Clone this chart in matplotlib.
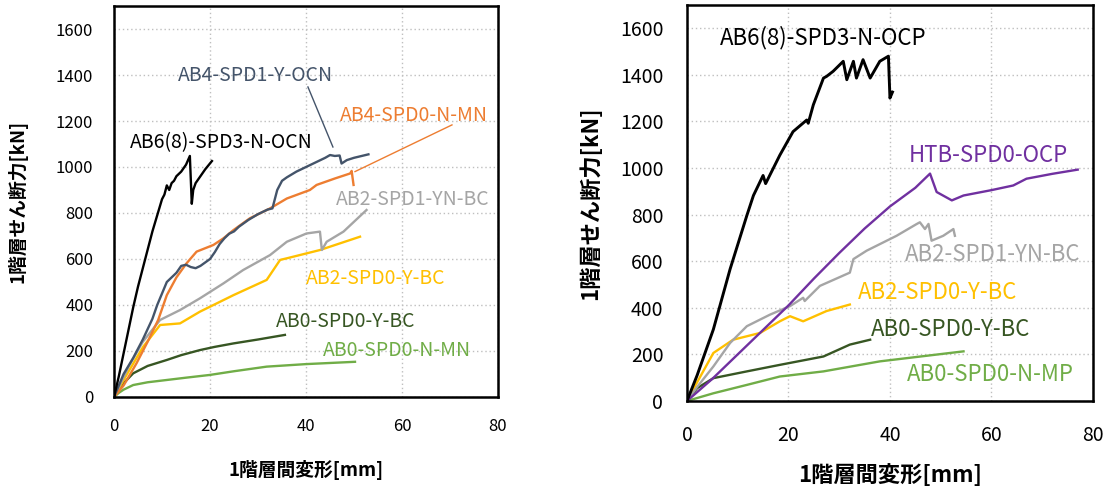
import matplotlib
matplotlib.use("Agg")
import matplotlib.pyplot as plt

plt.rcParams["font.family"] = ["Noto Sans CJK JP", "DejaVu Sans"]

# ---- left panel data (drift mm, shear kN) ----
l_ab6_x = [0, 1, 2, 3, 4, 5, 6, 7, 8, 9, 10, 10.5, 11, 11.5, 12, 12.5, 13, 14, 15, 15.8, 16.2, 16.5, 17, 18, 19, 20.4]
l_ab6_y = [0, 90, 190, 290, 390, 480, 560, 640, 720, 790, 860, 880, 920, 900, 930, 940, 960, 980, 1010, 1048, 840, 900, 930, 960, 990, 1026]

l_ab4y_x = [0, 2, 4, 6, 8, 9, 10, 11, 12, 13, 14, 15, 16, 17, 18, 19, 20, 21, 22, 23, 24, 25, 26, 28, 30, 32, 33, 34, 35, 36, 38, 40, 42, 44, 45, 46, 47, 47.4, 48.5, 50, 53]
l_ab4y_y = [0, 100, 170, 250, 340, 400, 450, 500, 520, 540, 570, 575, 565, 560, 570, 585, 600, 630, 665, 690, 710, 720, 740, 770, 795, 815, 820, 900, 940, 955, 980, 1000, 1020, 1040, 1052, 1048, 1050, 1015, 1030, 1040, 1055]

l_ab4n_x = [0, 2, 4.7, 7, 9.2, 11, 13, 15.1, 17.2, 20.7, 22.8, 24.9, 28.3, 32.5, 36, 40.8, 42.2, 46, 49.2, 49.5, 49.9]
l_ab4n_y = [0, 50, 147, 240, 335, 443, 520, 581, 632, 661, 690, 726, 777, 820, 863, 900, 922, 950, 972, 983, 922]

l_ab2yn_x = [0, 3, 6, 9.6, 13.75, 17.9, 22.8, 26.9, 32.5, 36, 40.1, 42.9, 43.3, 44.3, 47.8, 52.6]
l_ab2yn_y = [0, 130, 240, 335, 378, 429, 494, 552, 617, 675, 711, 719, 639, 675, 719, 813]

l_ab2y_x = [0, 3, 6.1, 9.6, 13.75, 17.9, 24.9, 31.8, 34.6, 36, 42.9, 51.25]
l_ab2y_y = [0, 110, 219, 313, 320, 371, 443, 509, 596, 603, 639, 697]

l_ab0y_x = [0, 1, 2, 4, 7, 11, 14, 17.9, 21, 24.9, 30, 35.6]
l_ab0y_y = [0, 35, 60, 103, 135, 161, 182, 204, 218, 233, 250, 270]

l_ab0n_x = [0, 1, 2, 4, 7, 11, 15, 20, 25, 31.8, 40, 50.2]
l_ab0n_y = [0, 18, 32, 52, 64, 74, 84, 96, 112, 132, 143, 153]

# ---- right panel data ----
r_ab6_x = [0, 2, 5.2, 8.5, 11.8, 13.1, 15, 15.5, 18.3, 20.9, 23.6, 23.9, 24.9, 26.9, 27.5, 28.8, 30.8, 31.5, 32.8, 33.4, 34.7, 36.1, 38, 39.7, 40, 40.5]
r_ab6_y = [0, 110, 307, 566, 796, 882, 968, 933, 1055, 1156, 1206, 1192, 1271, 1386, 1393, 1415, 1458, 1379, 1458, 1386, 1465, 1386, 1458, 1480, 1300, 1326]

r_htb_x = [0, 5, 10, 15, 20, 25, 30, 35, 40, 45, 47.9, 49.2, 52.2, 54.5, 60, 64.3, 66.9, 72, 77]
r_htb_y = [0, 95, 200, 305, 410, 525, 635, 740, 835, 915, 976, 897, 861, 882, 905, 925, 954, 975, 993]

r_ab2yn_x = [0, 2, 5.2, 8.5, 11.8, 16.4, 20.3, 22.9, 23.2, 26.2, 32.1, 32.8, 35.4, 41.3, 45.3, 45.9, 46.9, 47.6, 48.2, 50.5, 52.5, 52.8]
r_ab2yn_y = [0, 60, 148, 249, 321, 371, 407, 443, 429, 494, 551, 609, 645, 709, 760, 767, 738, 760, 688, 709, 738, 709]

r_ab2y_x = [0, 2, 5.2, 9.1, 14.4, 18.3, 20.3, 22.9, 27.5, 32.1]
r_ab2y_y = [0, 80, 206, 263, 292, 342, 364, 342, 386, 414]

r_ab0y_x = [0, 2, 5.2, 11.8, 18.3, 26.9, 32.1, 36.1]
r_ab0y_y = [0, 55, 98, 127, 155, 191, 242, 263]

r_ab0n_x = [0, 5.2, 11.8, 18.3, 26.9, 38, 54.5]
r_ab0n_y = [0, 33, 69, 105, 127, 170, 213]

x_ticks = [0, 20, 40, 60, 80]
y_ticks = [0, 200, 400, 600, 800, 1000, 1200, 1400, 1600]

C_BLACK = "#000000"
C_BLUE = "#44546A"
C_ORANGE = "#ED7D31"
C_GRAY = "#A5A5A5"
C_YELLOW = "#FFC000"
C_DKGREEN = "#375623"
C_GREEN = "#70AD47"
C_PURPLE = "#7030A0"


def style_axes(ax, tick_size, tick_pad, label_size, xlabel_pad, ylabel_pad):
    ax.set_xlim(0, 80)
    ax.set_ylim(0, 1700)
    ax.set_xticks(x_ticks)
    ax.set_yticks(y_ticks)
    ax.grid(True, linestyle=(0, (1, 2)), color="#BFBFBF", linewidth=1.0)
    ax.set_axisbelow(True)
    ax.tick_params(length=0, labelsize=tick_size, pad=tick_pad)
    for sp in ax.spines.values():
        sp.set_linewidth(1.8)
        sp.set_color("black")
    ax.set_xlabel("1階層間変形[mm]", fontsize=label_size, fontweight="bold", labelpad=xlabel_pad)
    ax.set_ylabel("1階層せん断力[kN]", fontsize=label_size, fontweight="bold", labelpad=ylabel_pad)


fig = plt.figure(figsize=(11.08, 4.92), dpi=100)
ax1 = fig.add_axes([0.1029, 0.1931, 0.3466, 0.7947])
ax2 = fig.add_axes([0.620, 0.185, 0.3664, 0.805])

# left panel
lw = 1.7
ax1.plot(l_ab0n_x, l_ab0n_y, color=C_GREEN, lw=lw)
ax1.plot(l_ab0y_x, l_ab0y_y, color=C_DKGREEN, lw=lw)
ax1.plot(l_ab2y_x, l_ab2y_y, color=C_YELLOW, lw=lw)
ax1.plot(l_ab2yn_x, l_ab2yn_y, color=C_GRAY, lw=lw)
ax1.plot(l_ab4n_x, l_ab4n_y, color=C_ORANGE, lw=lw)
ax1.plot(l_ab4y_x, l_ab4y_y, color=C_BLUE, lw=lw)
ax1.plot(l_ab6_x, l_ab6_y, color=C_BLACK, lw=lw)

ax1.plot([40.4, 45.6], [1348, 1087], color=C_BLUE, lw=1.0)
ax1.plot([50.2, 70.4], [980, 1183], color=C_ORANGE, lw=1.0)

fs_l = 14
ax1.text(29.4, 1396, "AB4-SPD1-Y-OCN", color=C_BLUE, fontsize=fs_l, ha="center", va="center")
ax1.text(62.5, 1226, "AB4-SPD0-N-MN", color=C_ORANGE, fontsize=fs_l, ha="center", va="center")
ax1.text(22.3, 1104, "AB6(8)-SPD3-N-OCN", color=C_BLACK, fontsize=fs_l, ha="center", va="center")
ax1.text(62.3, 857, "AB2-SPD1-YN-BC", color=C_GRAY, fontsize=fs_l, ha="center", va="center")
ax1.text(54.6, 517, "AB2-SPD0-Y-BC", color=C_YELLOW, fontsize=fs_l, ha="center", va="center")
ax1.text(48.3, 330, "AB0-SPD0-Y-BC", color=C_DKGREEN, fontsize=fs_l, ha="center", va="center")
ax1.text(59.0, 204, "AB0-SPD0-N-MN", color=C_GREEN, fontsize=fs_l, ha="center", va="center")
style_axes(ax1, 12, 15, 13.5, 18, 20)

# right panel
ax2.plot(r_ab0n_x, r_ab0n_y, color=C_GREEN, lw=lw)
ax2.plot(r_ab0y_x, r_ab0y_y, color=C_DKGREEN, lw=lw)
ax2.plot(r_ab2y_x, r_ab2y_y, color=C_YELLOW, lw=lw)
ax2.plot(r_ab2yn_x, r_ab2yn_y, color=C_GRAY, lw=lw)
ax2.plot(r_htb_x, r_htb_y, color=C_PURPLE, lw=lw)
ax2.plot(r_ab6_x, r_ab6_y, color=C_BLACK, lw=2.1)

fs_r = 16
ax2.text(26.8, 1559, "AB6(8)-SPD3-N-OCP", color=C_BLACK, fontsize=fs_r, ha="center", va="center")
ax2.text(59.3, 1054, "HTB-SPD0-OCP", color=C_PURPLE, fontsize=fs_r, ha="center", va="center")
ax2.text(60.3, 630, "AB2-SPD1-YN-BC", color=C_GRAY, fontsize=fs_r, ha="center", va="center")
ax2.text(49.3, 466, "AB2-SPD0-Y-BC", color=C_YELLOW, fontsize=fs_r, ha="center", va="center")
ax2.text(52.0, 307, "AB0-SPD0-Y-BC", color=C_DKGREEN, fontsize=fs_r, ha="center", va="center")
ax2.text(59.7, 112, "AB0-SPD0-N-MP", color=C_GREEN, fontsize=fs_r, ha="center", va="center")
style_axes(ax2, 14, 17, 16, 13, 13)

fig.savefig("out.png", dpi=100)
